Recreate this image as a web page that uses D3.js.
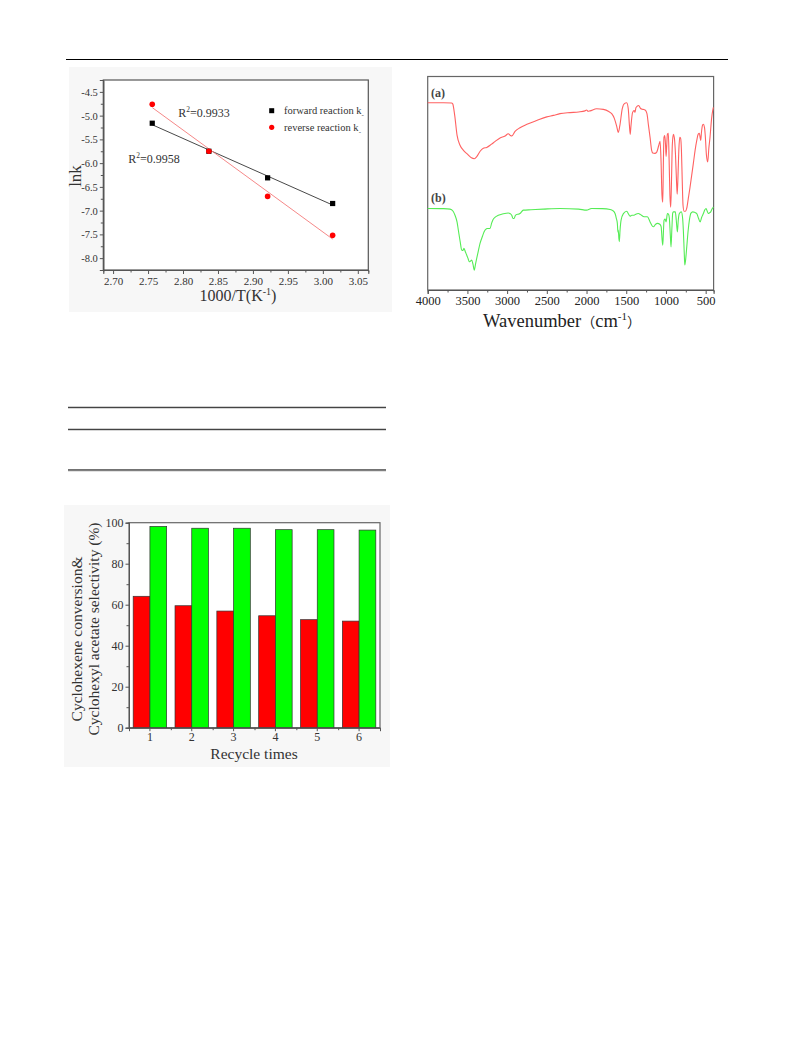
<!DOCTYPE html>
<html><head><meta charset="utf-8">
<script src="https://cdn.jsdelivr.net/npm/d3@7"></script>
<style>
body{margin:0;background:#fff}
svg{display:block}
text{font-family:"Liberation Serif","Times New Roman",serif}
</style></head><body>
<svg id="c" width="793" height="1053"></svg>
<script>
// ---------- DATA ----------
// Chart 1: Arrhenius plot
const invT = [2.756, 2.837, 2.921, 3.014];
const lnkForward = [-5.16, -5.75, -6.31, -6.85];
const lnkReverse = [-4.76, -5.75, -6.70, -7.52];
const xTicks1 = [2.70, 2.75, 2.80, 2.85, 2.90, 2.95, 3.00, 3.05];
const yTicks1 = [-4.5, -5.0, -5.5, -6.0, -6.5, -7.0, -7.5, -8.0];
const legend1 = ["forward reaction k", "reverse reaction k"];
const r2Labels = ["0.9933", "0.9958"];

// Chart 2: FTIR spectra [wavenumber, transmittance a.u.]
const spectrumA = [[4000,87.7],[3800,87.7],[3700,87.6],[3685,87.2],[3660,81.8],[3630,72.4],[3593,67.8],[3550,65.4],[3500,63.6],[3450,61.9],[3413,61.5],[3380,62.6],[3340,65.0],[3300,66.4],[3257,66.8],[3200,68.2],[3150,69.6],[3089,71.2],[3026,72.1],[2985,73.2],[2960,72.4],[2942,72.1],[2900,74.3],[2838,76.0],[2750,77.6],[2627,79.4],[2500,81.1],[2418,81.8],[2334,82.6],[2208,83.1],[2100,83.4],[2020,83.9],[2000,84.3],[1980,83.7],[1956,83.9],[1872,84.9],[1788,84.6],[1720,83.6],[1683,82.6],[1650,80.4],[1620,76.6],[1600,73.8],[1580,77.1],[1550,85.0],[1520,87.4],[1494,87.7],[1475,85.0],[1460,77.1],[1450,72.9],[1440,77.1],[1420,83.2],[1400,84.1],[1390,83.2],[1377,85.5],[1343,86.4],[1320,85.0],[1290,84.6],[1263,84.3],[1240,82.7],[1220,77.1],[1200,71.5],[1180,65.4],[1166,64.2],[1140,64.0],[1116,64.6],[1090,67.8],[1074,69.6],[1062,60.7],[1050,44.4],[1040,41.1],[1032,60.7],[1025,71.5],[1015,72.4],[1005,67.8],[998,62.6],[990,67.8],[982,72.9],[970,73.4],[960,60.7],[950,44.4],[940,38.8],[930,51.4],[920,67.8],[907,72.9],[895,71.5],[880,63.6],[866,50.0],[858,44.9],[848,53.8],[838,65.4],[826,71.5],[815,71.0],[805,65.4],[795,51.4],[785,39.7],[772,36.9],[755,36.9],[738,38.3],[718,43.0],[697,48.1],[676,53.7],[655,59.3],[633,65.4],[612,70.1],[595,72.9],[579,73.4],[570,71.5],[562,70.1],[553,73.8],[540,77.1],[529,77.6],[515,76.2],[505,72.4],[490,63.1],[474,60.0],[460,66.4],[445,71.6],[425,80.4],[411,84.1],[403,85.5]];
const spectrumB = [[4000,38.2],[3800,38.1],[3719,37.9],[3680,36.9],[3656,35.0],[3630,31.8],[3614,28.0],[3590,22.4],[3572,18.7],[3555,18.5],[3543,19.5],[3525,17.8],[3509,16.4],[3490,14.5],[3476,13.2],[3460,13.6],[3446,14.0],[3430,12.1],[3413,9.3],[3400,11.7],[3383,14.8],[3360,18.7],[3341,21.8],[3310,25.2],[3291,27.2],[3260,28.7],[3249,28.8],[3215,28.8],[3195,31.3],[3181,32.7],[3150,34.1],[3111,35.0],[3050,35.7],[2985,36.1],[2960,35.7],[2942,35.0],[2925,33.5],[2913,33.5],[2895,35.0],[2879,35.4],[2860,35.5],[2838,35.8],[2796,37.4],[2700,37.6],[2544,37.9],[2334,38.2],[2100,37.9],[1998,37.4],[1960,37.9],[1935,38.2],[1800,38.1],[1704,37.7],[1670,37.2],[1641,35.8],[1625,33.6],[1612,31.2],[1605,27.1],[1600,28.0],[1593,24.3],[1587,22.6],[1578,28.0],[1565,32.7],[1536,35.8],[1494,36.9],[1470,35.5],[1452,34.6],[1430,35.0],[1402,35.0],[1380,35.5],[1347,35.8],[1320,35.3],[1292,34.6],[1260,34.3],[1234,34.3],[1200,31.9],[1175,30.1],[1158,29.6],[1130,30.8],[1108,31.2],[1074,30.7],[1060,29.6],[1050,24.3],[1040,21.0],[1032,27.1],[1024,32.7],[1010,33.2],[998,31.9],[982,35.8],[968,35.5],[957,33.6],[945,25.7],[936,20.2],[925,29.0],[915,36.0],[907,36.6],[882,36.6],[870,32.7],[856,27.2],[845,32.7],[831,35.8],[806,36.6],[790,33.6],[781,28.0],[770,17.8],[763,11.7],[750,15.0],[738,20.2],[720,28.0],[705,32.7],[685,36.0],[663,36.6],[640,36.4],[612,35.8],[590,33.6],[570,31.9],[550,34.1],[529,35.8],[510,37.6],[495,38.2],[480,36.9],[466,35.8],[450,36.2],[436,36.6],[420,37.9],[403,38.9]];
const xTicks2 = [4000, 3500, 3000, 2500, 2000, 1500, 1000, 500];
const spectrumLabels = ["(a)", "(b)"];

// Chart 3: recycling
const recycleTimes = ["1", "2", "3", "4", "5", "6"];
const conversion = [64.1, 59.5, 56.9, 54.6, 52.7, 52.0];
const selectivity = [98.2, 97.3, 97.3, 96.6, 96.6, 96.4];
const yTicks3 = [0, 20, 40, 60, 80, 100];

// ---------- DRAW ----------
const svg = d3.select("#c");
svg.append("rect").attr("width", 793).attr("height", 1053).attr("fill", "#fff");

// page header rule
svg.append("line").attr("x1", 66).attr("x2", 728).attr("y1", 59.5).attr("y2", 59.5)
  .attr("stroke", "#000").attr("stroke-width", 1.2);

const AX = "#555", TX = "#333";
function styleAxis(g, fs) {
  g.select(".domain").attr("stroke", AX);
  g.selectAll(".tick line").attr("stroke", AX);
  g.selectAll(".tick text").attr("fill", TX).attr("font-size", fs)
    .attr("font-family", '"Liberation Serif","Times New Roman",serif');
}

// ===== Chart 1 =====
{
  const L = 103.3, R = 368.3, T = 80, B = 270;
  svg.append("rect").attr("x", 69).attr("y", 67).attr("width", 323).attr("height", 245).attr("fill", "#f7f7f7");
  const x = d3.scaleLinear().domain([2.686, 3.065]).range([L, R]);
  const y = d3.scaleLinear().domain([-8.25, -4.25]).range([B, T]);
  svg.append("rect").attr("x", L).attr("y", T).attr("width", R - L).attr("height", B - T)
    .attr("fill", "#fff").attr("stroke", AX).attr("stroke-width", 1.2);
  const minorX = d3.range(2.70, 3.051, 0.025).filter(v => !xTicks1.some(t => Math.abs(t - v) < 1e-6));
  const minorY = d3.range(-8.25, -4.24, 0.25).filter(v => !yTicks1.some(t => Math.abs(t - v) < 1e-6));
  const gx = svg.append("g").attr("transform", `translate(0,${B})`)
    .call(d3.axisBottom(x).tickValues(xTicks1).tickSize(4).tickPadding(3).tickFormat(d3.format(".2f")));
  styleAxis(gx, 11);
  const gxm = svg.append("g").attr("transform", `translate(0,${B})`)
    .call(d3.axisBottom(x).tickValues(minorX).tickSize(2.5).tickFormat(""));
  styleAxis(gxm, 11);
  const gy = svg.append("g").attr("transform", `translate(${L},0)`)
    .call(d3.axisLeft(y).tickValues(yTicks1).tickSize(3.5).tickPadding(2).tickFormat(d3.format(".1f")));
  styleAxis(gy, 10.5);
  const gym = svg.append("g").attr("transform", `translate(${L},0)`)
    .call(d3.axisLeft(y).tickValues(minorY).tickSize(2.5).tickFormat(""));
  styleAxis(gym, 11);
  gy.selectAll(".tick text").text(d => d3.format(".1f")(d).replace("−", "-"));

  function fit(xs, ys) {
    const mx = d3.mean(xs), my = d3.mean(ys);
    const b = d3.sum(xs, (v, i) => (v - mx) * (ys[i] - my)) / d3.sum(xs, v => (v - mx) ** 2);
    return v => my + b * (v - mx);
  }
  const fF = fit(invT, lnkForward), fR = fit(invT, lnkReverse);
  const ext = d3.extent(invT);
  const line = d3.line().x(d => x(d[0])).y(d => y(d[1]));
  svg.append("path").attr("d", line(ext.map(v => [v, fF(v)]))).attr("stroke", "#333").attr("stroke-width", 0.9).attr("fill", "none");
  svg.append("path").attr("d", line(ext.map(v => [v, fR(v)]))).attr("stroke", "#f47a7a").attr("stroke-width", 0.9).attr("fill", "none");
  svg.selectAll(".sq").data(invT).enter().append("rect")
    .attr("x", (d) => x(d) - 2.6).attr("y", (d, i) => y(lnkForward[i]) - 2.6)
    .attr("width", 5.2).attr("height", 5.2).attr("fill", "#000");
  svg.selectAll(".ci").data(invT).enter().append("circle")
    .attr("cx", d => x(d)).attr("cy", (d, i) => y(lnkReverse[i])).attr("r", 2.8).attr("fill", "#ff0000");

  // legend
  svg.append("rect").attr("x", 269.2).attr("y", 108.2).attr("width", 5).attr("height", 5).attr("fill", "#000");
  svg.append("circle").attr("cx", 271.7).attr("cy", 127.3).attr("r", 2.6).attr("fill", "#ff0000");
  legend1.forEach((t, i) => {
    const tx = svg.append("text").attr("x", 284).attr("y", 114 + i * 16.5).attr("font-size", 10.5).attr("fill", TX).text(t);
    tx.append("tspan").attr("dy", 3).attr("font-size", 7).text("-");
  });
  // R^2 labels
  [[178.3, 116.7], [128.3, 163.3]].forEach((p, i) => {
    const tx = svg.append("text").attr("x", p[0]).attr("y", p[1]).attr("font-size", 12).attr("fill", TX).text("R");
    tx.append("tspan").attr("dy", -5).attr("font-size", 7.5).text("2");
    tx.append("tspan").attr("dy", 5).text("=" + r2Labels[i]);
  });
  // axis titles
  svg.append("text").attr("transform", "translate(81,176) rotate(-90)").attr("text-anchor", "middle")
    .attr("font-size", 17).attr("fill", TX).text("lnk");
  const xt = svg.append("text").attr("x", 238).attr("y", 301).attr("text-anchor", "middle").attr("font-size", 16).attr("fill", TX).text("1000/T(K");
  xt.append("tspan").attr("dy", -6).attr("font-size", 10).text("-1");
  xt.append("tspan").attr("dy", 6).text(")");
}

// ===== Chart 2: FTIR =====
{
  const L = 427.7, R = 713.6, T = 76.5, B = 290;
  const x = d3.scaleLinear().domain([4000, 400]).range([L, R]);
  const y = d3.scaleLinear().domain([0, 100]).range([B, T]);
  svg.append("rect").attr("x", L).attr("y", T).attr("width", R - L).attr("height", B - T)
    .attr("fill", "#fff").attr("stroke", "#666").attr("stroke-width", 1.2);
  const gx = svg.append("g").attr("transform", `translate(0,${B})`)
    .call(d3.axisBottom(x).tickValues(xTicks2).tickSize(4).tickPadding(2).tickFormat(d3.format("d")));
  styleAxis(gx, 12.5);
  gx.selectAll(".tick text").attr("fill", "#222");
  const minor2 = d3.range(3750, 400, -500);
  const gxm = svg.append("g").attr("transform", `translate(0,${B})`)
    .call(d3.axisBottom(x).tickValues(minor2).tickSize(2.5).tickFormat(""));
  styleAxis(gxm, 12);
  const line = d3.line().x(d => x(d[0])).y(d => y(d[1])).curve(d3.curveMonotoneX);
  svg.append("path").attr("d", line(spectrumA)).attr("stroke", "#ff6161").attr("stroke-width", 1.1).attr("fill", "none");
  svg.append("path").attr("d", line(spectrumB)).attr("stroke", "#55ec55").attr("stroke-width", 1.1).attr("fill", "none");
  svg.append("text").attr("x", 431).attr("y", 96.5).attr("font-size", 12).attr("font-weight", "bold").attr("fill", "#444").text(spectrumLabels[0]);
  svg.append("text").attr("x", 431).attr("y", 201.5).attr("font-size", 12).attr("font-weight", "bold").attr("fill", "#444").text(spectrumLabels[1]);
  const xt = svg.append("text").attr("x", 562).attr("y", 327).attr("text-anchor", "middle").attr("font-size", 18.5).attr("fill", "#222");
  xt.append("tspan").text("Wavenumber");
  xt.append("tspan").attr("font-family", '"Noto Sans CJK SC",sans-serif').attr("font-size", 14).text("（");
  xt.append("tspan").text("cm");
  xt.append("tspan").attr("dy", -7).attr("font-size", 11).text("-1");
  xt.append("tspan").attr("dy", 7).attr("font-family", '"Noto Sans CJK SC",sans-serif').attr("font-size", 14).text("）");
}

// ===== Table rules =====
[407.3, 429.3, 470].forEach(yy => {
  svg.append("line").attr("x1", 68).attr("x2", 386).attr("y1", yy).attr("y2", yy).attr("stroke", "#444").attr("stroke-width", 1.3);
  svg.append("line").attr("x1", 68).attr("x2", 386).attr("y1", yy + 1.2).attr("y2", yy + 1.2).attr("stroke", "#bbb").attr("stroke-width", 0.6);
});

// ===== Chart 3: bars =====
{
  const L = 129, R = 380, T = 522.7, B = 727.7;
  svg.append("rect").attr("x", 64).attr("y", 505).attr("width", 326).attr("height", 262).attr("fill", "#f7f7f7");
  svg.append("rect").attr("x", L).attr("y", T).attr("width", R - L).attr("height", B - T)
    .attr("fill", "#fff").attr("stroke", "#666").attr("stroke-width", 1.2);
  const x = d3.scaleBand().domain(recycleTimes).range([L, R]).paddingInner(0.2).paddingOuter(0.1);
  const xs = d3.scaleBand().domain(["conv", "sel"]).range([0, x.bandwidth()]);
  const xl = d3.scaleLinear().domain([0.5, 6.5]).range([L, R]);
  const y = d3.scaleLinear().domain([0, 100]).range([B, T]);
  const g = svg.append("g");
  g.selectAll(".r").data(recycleTimes).enter().append("rect")
    .attr("x", d => x(d) + xs("conv")).attr("y", (d, i) => y(conversion[i]))
    .attr("width", xs.bandwidth()).attr("height", (d, i) => B - y(conversion[i]))
    .attr("fill", "#ff0000").attr("stroke", "#333").attr("stroke-width", 0.7);
  g.selectAll(".gr").data(recycleTimes).enter().append("rect")
    .attr("x", d => x(d) + xs("sel")).attr("y", (d, i) => y(selectivity[i]))
    .attr("width", xs.bandwidth()).attr("height", (d, i) => B - y(selectivity[i]))
    .attr("fill", "#00ff00").attr("stroke", "#333").attr("stroke-width", 0.7);
  const gx = svg.append("g").attr("transform", `translate(0,${B})`)
    .call(d3.axisBottom(x).tickSize(3.5).tickPadding(1.5));
  styleAxis(gx, 12);
  const gxm = svg.append("g").attr("transform", `translate(0,${B})`)
    .call(d3.axisBottom(xl).tickValues([1.5, 2.5, 3.5, 4.5, 5.5]).tickSize(2.5).tickFormat(""));
  styleAxis(gxm, 12);
  const gy = svg.append("g").attr("transform", `translate(${L},0)`)
    .call(d3.axisLeft(y).tickValues(yTicks3).tickSize(3.5).tickPadding(2));
  styleAxis(gy, 12);
  const gym = svg.append("g").attr("transform", `translate(${L},0)`)
    .call(d3.axisLeft(y).tickValues([10, 30, 50, 70, 90]).tickSize(2.5).tickFormat(""));
  styleAxis(gym, 12);
  svg.append("text").attr("transform", "translate(82,639) rotate(-90)").attr("text-anchor", "middle")
    .attr("font-size", 15.5).attr("fill", TX).text("Cyclohexene conversion&");
  svg.append("text").attr("transform", "translate(99,629) rotate(-90)").attr("text-anchor", "middle")
    .attr("font-size", 15.5).attr("fill", TX).text("Cyclohexyl acetate selectivity (%)");
  svg.append("text").attr("x", 254).attr("y", 759).attr("text-anchor", "middle")
    .attr("font-size", 15.5).attr("fill", TX).text("Recycle times");
}
</script></body></html>
